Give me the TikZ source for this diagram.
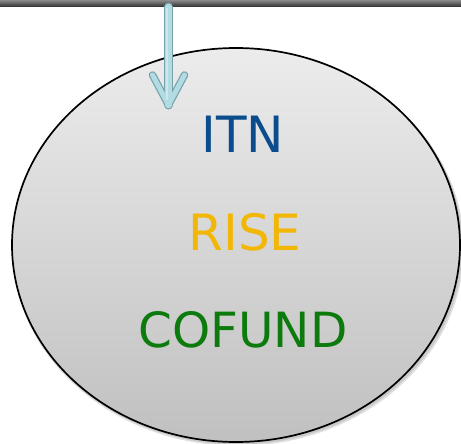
\documentclass[tikz,border=0pt]{standalone}
\usepackage{fontspec}
\setmainfont{DejaVu Sans}
\definecolor{itnblue}{HTML}{0B4C8C}
\definecolor{risegold}{HTML}{F2B705}
\definecolor{cofgreen}{HTML}{0C7A0C}
\definecolor{ovaltop}{HTML}{ECECEC}
\definecolor{ovalbot}{HTML}{C0C0C0}
\definecolor{arrowfill}{HTML}{B2DCE2}
\definecolor{arrowedge}{HTML}{77A3AD}
\definecolor{bartop}{HTML}{8A8A8A}
\definecolor{barbot}{HTML}{2E2E2E}
\begin{document}
\begin{tikzpicture}[x=1pt,y=-1pt,
  label/.style={font=\fontsize{50}{60}\selectfont, anchor=base, inner sep=0pt},
  oval/.style={ellipse, draw=black, line width=1.7pt, minimum width=448pt, minimum height=394pt, inner sep=0pt, top color=ovaltop, bottom color=ovalbot},
  arrowline/.style={line cap=round, line join=round}]
\usetikzlibrary{shapes.geometric}
\useasboundingbox (0,0) rectangle (461,444);
\fill[white] (0,0) rectangle (461,444);
% shadow
\fill[black, opacity=0.12] (238,248) ellipse [x radius=226pt, y radius=198pt];
\fill[black, opacity=0.10] (237.5,247) ellipse [x radius=225pt, y radius=197.5pt];
\node[oval] (oval) at (236,245) {};
% top bar
\shade[top color=bartop, bottom color=barbot] (0,0) rectangle (461,7);
\coordinate (bar) at (168.5,7);
\coordinate (tip) at (168.5,105);
\coordinate (wl) at (152.5,75);
\coordinate (wr) at (184.5,75);
% arrow
\draw[arrowline, arrowedge, line width=9pt] (bar) -- (tip);
\draw[arrowline, arrowedge, line width=7.5pt] (wl) -- (tip) -- (wr);
\draw[arrowline, arrowfill, line width=6.5pt] (bar) -- (tip);
\draw[arrowline, arrowfill, line width=5pt] (wl) -- (tip) -- (wr);
\draw[white, opacity=0.35, line width=1.5pt] (167,8) -- (167,100);
% texts
\node[label, text=itnblue] (itn) at (243,152) {ITN};
\node[label, text=risegold] (rise) at (245,250) {RISE};
\node[label, text=cofgreen, font=\fontsize{48.5}{60}\selectfont] (cofund) at (243,347) {COFUND};
\end{tikzpicture}
\end{document}
